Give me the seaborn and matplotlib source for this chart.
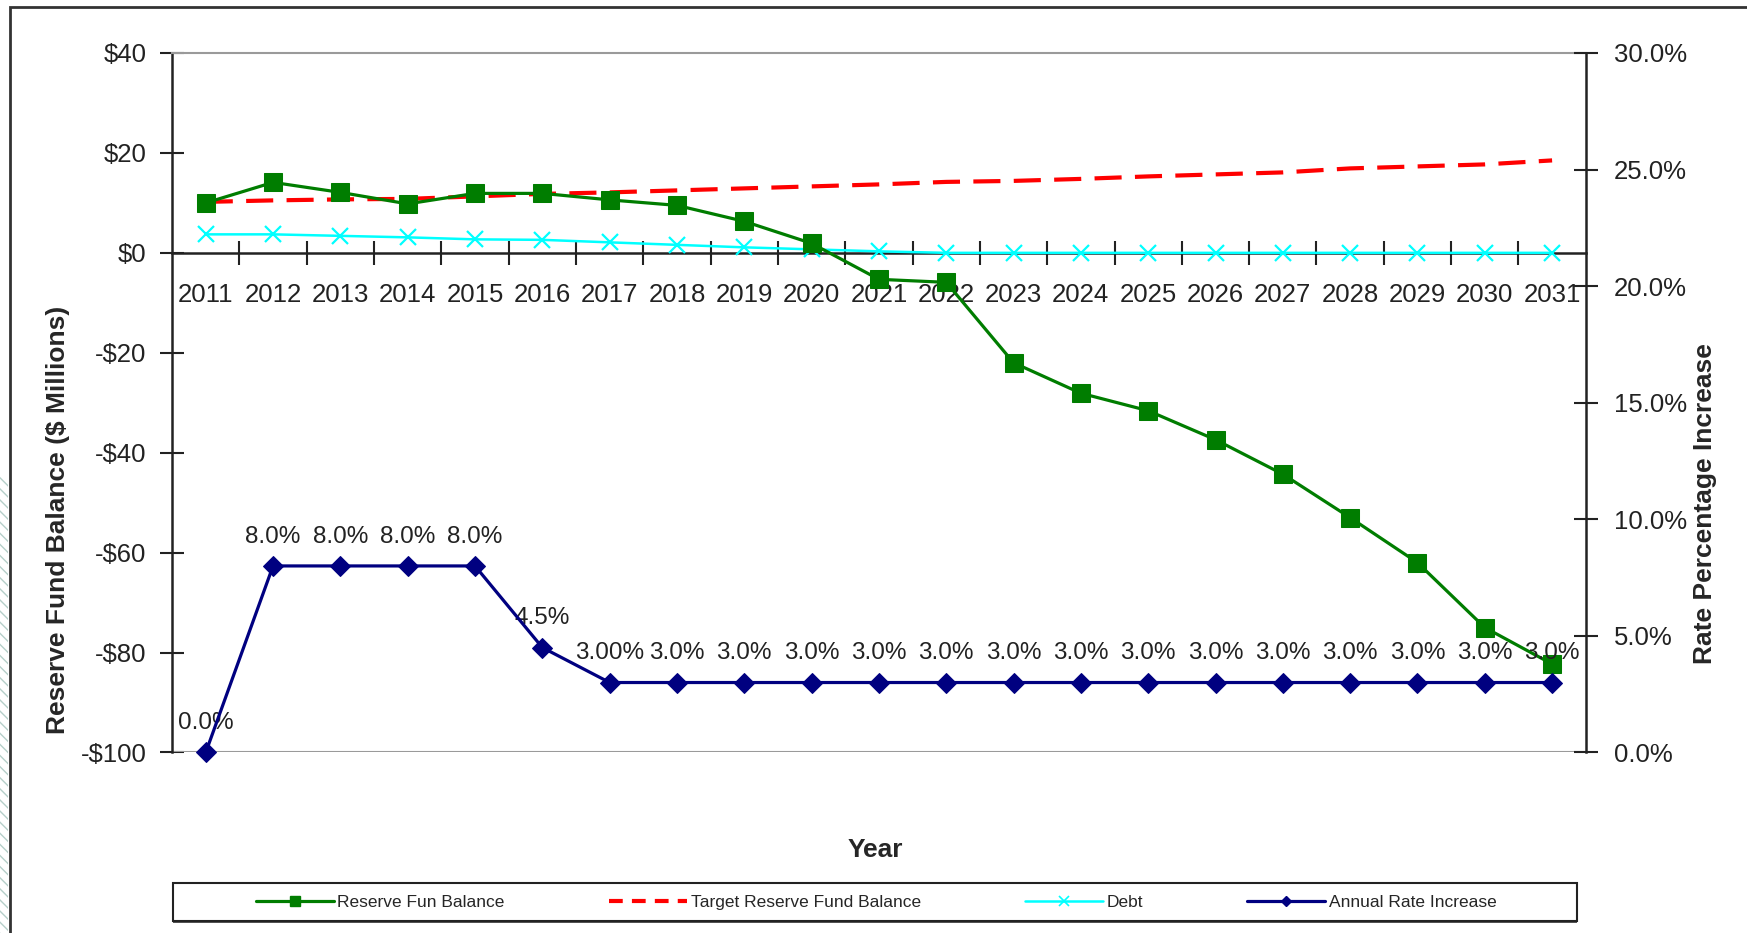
import matplotlib
matplotlib.use("Agg")
import matplotlib.pyplot as plt
import seaborn as sns
import pandas as pd
from matplotlib.patches import Rectangle
from matplotlib.lines import Line2D
from matplotlib.ticker import FixedLocator, FuncFormatter

years = list(range(2011, 2032))
reserve_balance = [10.0, 14.1, 12.1, 9.8, 11.9, 11.9, 10.6, 9.5, 6.3, 1.9, -5.3,
                   -5.9, -22.0, -28.1, -31.6, -37.4, -44.3, -53.0, -62.0, -75.0, -82.3]
target_balance = [10.2, 10.5, 10.7, 10.8, 11.3, 11.8, 12.1, 12.5, 12.9, 13.3, 13.7,
                  14.2, 14.4, 14.8, 15.3, 15.7, 16.1, 16.9, 17.3, 17.7, 18.5]
debt = [3.7, 3.7, 3.4, 3.1, 2.7, 2.6, 2.1, 1.6, 1.1, 0.7, 0.3,
        0.0, 0.0, 0.0, 0.0, 0.0, 0.0, 0.0, 0.0, 0.0, 0.0]
rate_increase = [0.0, 8.0, 8.0, 8.0, 8.0, 4.5, 3.0, 3.0, 3.0, 3.0, 3.0,
                 3.0, 3.0, 3.0, 3.0, 3.0, 3.0, 3.0, 3.0, 3.0, 3.0]
rate_labels = ["0.0%", "8.0%", "8.0%", "8.0%", "8.0%", "4.5%", "3.00%"] + ["3.0%"] * 14

df = pd.DataFrame({
    "year": years,
    "reserve": reserve_balance,
    "target": target_balance,
    "debt": debt,
    "rate": [r / 100 for r in rate_increase],
})

sns.set_style("white")
plt.rcParams["font.family"] = ["Liberation Sans", "DejaVu Sans"]
plt.rcParams["hatch.color"] = "#b5cfc9"

fig = plt.figure(figsize=(17.47, 9.33), dpi=100)
ax = fig.add_axes([0.0985, 0.1935, 0.8092, 0.7497])
ax2 = ax.twinx()

green = "#007d00"
red = "#ff0000"
cyan = "#00ffff"
navy = "#000080"

sns.lineplot(data=df, x="year", y="debt", ax=ax, color=cyan, lw=1.8,
             marker="x", markersize=11, markeredgewidth=1.6, markeredgecolor=cyan, zorder=3)
sns.lineplot(data=df, x="year", y="target", ax=ax, color=red, lw=3.0,
             dashes=False, zorder=4)
ax.lines[-1].set_dashes((6.5, 3.2))
sns.lineplot(data=df, x="year", y="reserve", ax=ax, color=green, lw=2.3,
             marker="s", markersize=13, markeredgecolor=green, zorder=5)

sns.lineplot(data=df, x="year", y="rate", ax=ax2, color=navy, lw=2.3,
             marker="D", markersize=10.5, markeredgecolor=navy, zorder=5)
for line in ax2.lines:
    line.set_clip_on(False)
for x, r, lab in zip(years, df["rate"], rate_labels):
    ax2.annotate(lab, (x, r), xytext=(0, 13), textcoords="offset points",
                 ha="center", va="bottom", fontsize=17.5, color="#222222")

ax.set_xlim(2010.5, 2031.5)
ax.set_ylim(-100, 40)
ax2.set_ylim(0, 0.30)

# left axis
ax.set_yticks(range(-100, 41, 20))
ax.yaxis.set_major_formatter(FuncFormatter(lambda v, p: f"${v:.0f}" if v >= 0 else f"-${-v:.0f}"))
ax.tick_params(axis="y", direction="inout", length=17, width=1.5, labelsize=18.5,
               pad=10, colors="#222222")

# x axis at zero with category boundary ticks
ax.spines["bottom"].set_position(("data", 0))
ax.xaxis.set_major_locator(FixedLocator([y + 0.5 for y in years[:-1]]))
ax.xaxis.set_major_formatter(FuncFormatter(lambda v, p: ""))
ax.xaxis.set_minor_locator(FixedLocator(years))
ax.xaxis.set_minor_formatter(FuncFormatter(lambda v, p: f"{int(round(v))}"))
ax.tick_params(axis="x", which="major", direction="inout", length=17, width=1.5,
               bottom=True, colors="#222222")
ax.tick_params(axis="x", which="minor", length=0, labelsize=18.5, pad=22,
               labelcolor="#222222")
ax.set_xlabel("")
ax.set_ylabel("")
ax2.set_ylabel("")

for s in ["left", "bottom"]:
    ax.spines[s].set_color("#222222")
    ax.spines[s].set_linewidth(1.8)
ax.spines["top"].set_color("#9a9a9a")
ax.spines["top"].set_linewidth(1.5)
ax.spines["right"].set_visible(False)
ax.axhline(-100, color="#9a9a9a", lw=1.5, zorder=1)

ax2.spines["left"].set_visible(False)
ax2.spines["top"].set_visible(False)
ax2.spines["bottom"].set_visible(False)
ax2.spines["right"].set_color("#222222")
ax2.spines["right"].set_linewidth(1.8)
ax2.set_yticks([i / 100 for i in range(0, 31, 5)])
ax2.yaxis.set_major_formatter(FuncFormatter(lambda v, p: f"{v * 100:.1f}%"))
ax2.tick_params(axis="y", direction="inout", length=17, width=1.5, labelsize=18.5,
                pad=12, colors="#222222")

# axis titles
fig.text(0.033, 0.443, "Reserve Fund Balance ($ Millions)", rotation=90,
         ha="center", va="center", fontsize=19, fontweight="bold")
fig.text(0.976, 0.46, "Rate Percentage Increase", rotation=90,
         ha="center", va="center", fontsize=19, fontweight="bold")
fig.text(0.5008, 0.089, "Year", ha="center", va="center", fontsize=19,
         fontweight="bold")

# legend box
fig.patches.append(Rectangle((0.0993, 0.0104), 0.8036, 0.0417, transform=fig.transFigure,
                             facecolor="#555555", edgecolor="none", zorder=0))
fig.patches.append(Rectangle((0.0989, 0.0124), 0.8036, 0.0417, transform=fig.transFigure,
                             facecolor="white", edgecolor="#222222", lw=1.5, zorder=1))
handles = [
    Line2D([], [], color=green, lw=2.3, marker="s", markersize=7),
    Line2D([], [], color=red, lw=3.0, dashes=(3.3, 2.2)),
    Line2D([], [], color=cyan, lw=1.8, marker="x", markersize=7, markeredgewidth=1.2),
    Line2D([], [], color=navy, lw=2.3, marker="D", markersize=5),
]
labels = ["Reserve Fun Balance", "Target Reserve Fund Balance", "Debt", "Annual Rate Increase"]
fig.legend(handles, labels, loc="center", bbox_to_anchor=(0.5015, 0.0332), ncol=4,
           frameon=False, fontsize=12.5, handlelength=4.5, handletextpad=0.2,
           columnspacing=6.0)

# outer chart border and hatched margin
fig.patches.append(Rectangle((10 / 1747, -0.1), 1.2, 1.1 - 7 / 933, transform=fig.transFigure,
                             facecolor="none", edgecolor="#333333", lw=2.0, zorder=2))
fig.patches.append(Rectangle((0, 0), 8 / 1747, 0.49, transform=fig.transFigure,
                             facecolor="white", edgecolor="#b5cfc9", lw=0, hatch="\\\\\\",
                             zorder=0))

fig.savefig("out.png", dpi=100)
